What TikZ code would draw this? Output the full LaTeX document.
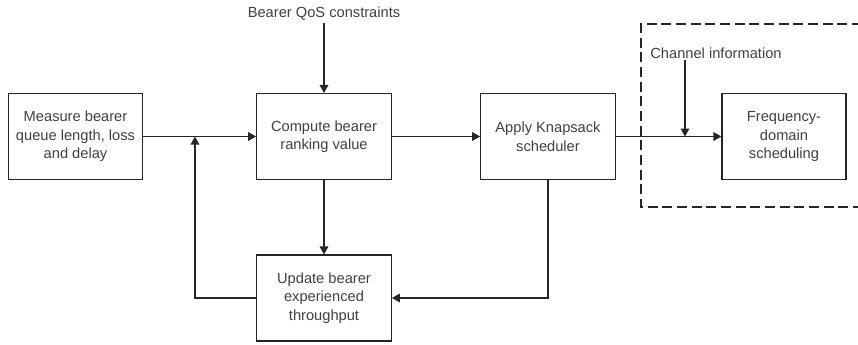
\documentclass[tikz,border=0pt]{standalone}
\usepackage{fontspec}
\setmainfont{Liberation Sans}
\usetikzlibrary{arrows.meta}

\begin{document}
\begin{tikzpicture}[x=0.75pt, y=-0.75pt, line width=0.8pt, draw=black!85,
        block/.style={draw, fill=white, align=center, text=black!75, minimum width=101pt, minimum height=64.5pt, font=\fontsize{11}{13.9}\selectfont},
        lbl/.style={text=black!75, inner sep=1pt, font=\fontsize{11}{13.9}\selectfont},
        arr/.style={-{Triangle[length=6pt, width=6.5pt]}}]
    \useasboundingbox (0,0) rectangle (858,344);

    % dashed region round the frequency-domain part (runs off the right edge)
    \draw[dash pattern=on 7.5pt off 3.5pt] (862,24) -- (641,24) -- (641,207) -- (862,207);

    \node[block] (measure) at (75.5,136.5) {Measure bearer\\queue length, loss\\and delay};
    \node[block] (rank) at (324,136.5) {Compute bearer\\ranking value};
    \node[block] (knap) at (548,136.5) {Apply Knapsack\\scheduler};
    \node[block, minimum width=93pt] (freq) at (784,136.5) {Frequency-\\domain\\scheduling};
    \node[block] (update) at (324,298) {Update bearer\\experienced\\throughput};

    \node[lbl] (qos) at (324,14) {Bearer QoS constraints};
    \node[lbl] (chan) at (716,53) {Channel information};

    \coordinate (join) at (195,136.5);
    \coordinate (chjoin) at (685,136.5);

    \draw[arr] (measure) -- (rank);
    \draw[arr] (qos) -- (rank);
    \draw[arr] (rank) -- (knap);
    \draw[arr] (knap) -- (freq);
    \draw[arr] (chan.south -| chjoin) -- (chjoin);
    \draw[arr] (rank) -- (update);
    \draw[arr] (knap.south) |- (update.east);
    \draw[arr] (update.west) -| (join);

\end{tikzpicture}
\end{document}
